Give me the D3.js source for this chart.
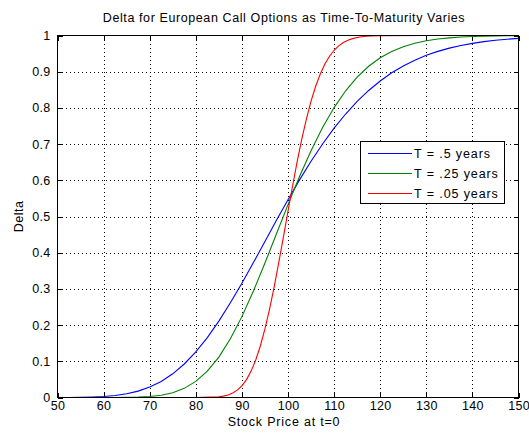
<!DOCTYPE html>
<html>
<head>
<meta charset="utf-8">
<script src="https://cdn.jsdelivr.net/npm/d3@7/dist/d3.min.js"></script>
<style>
  html, body { margin: 0; padding: 0; background: #fff; }
  svg { display: block; }
  text { font-family: "Liberation Sans", Arial, Helvetica, sans-serif; fill: #000; }
</style>
</head>
<body>
<svg id="chart" width="529" height="433"></svg>
<script>
// Stock prices (x) shared by the T = .5 and T = .25 curves
const prices = [50, 52.5, 55, 57.5, 60, 62.5, 65, 67.5, 70, 72.5, 75, 77.5, 80, 82.5, 85, 87.5,
  90, 92.5, 95, 97.5, 100, 102.5, 105, 107.5, 110, 112.5, 115, 117.5, 120, 122.5, 125, 127.5,
  130, 132.5, 135, 137.5, 140, 142.5, 145, 147.5, 150];

const deltaHalfYear = [0.0001, 0.0002, 0.0005, 0.0013, 0.0028, 0.0055, 0.0102, 0.0176, 0.0287,
  0.0443, 0.0654, 0.0926, 0.126, 0.1656, 0.211, 0.2615, 0.3158, 0.3727, 0.4311, 0.4894, 0.5464,
  0.6011, 0.6527, 0.7004, 0.744, 0.7831, 0.8178, 0.8482, 0.8744, 0.8969, 0.916, 0.9319, 0.9453,
  0.9562, 0.9652, 0.9724, 0.9783, 0.983, 0.9867, 0.9897, 0.992];

const deltaQuarterYear = [0, 0, 0, 0, 0, 0.0001, 0.0004, 0.0011, 0.0028, 0.0064, 0.0132, 0.0252,
  0.0444, 0.0726, 0.1117, 0.1622, 0.2234, 0.2941, 0.3715, 0.4522, 0.5328, 0.6103, 0.6818, 0.7456,
  0.8009, 0.8473, 0.8851, 0.9151, 0.9383, 0.956, 0.9691, 0.9786, 0.9854, 0.9902, 0.9935, 0.9957,
  0.9972, 0.9982, 0.9989, 0.9993, 0.9996];

// The short-dated curve is sampled more finely through its steep section
const pricesShort = [50, 60, 70, 80, 85, 86, 87, 88, 89, 90, 91, 92, 93, 94, 95, 96, 97, 98, 99,
  100, 101, 102, 103, 104, 105, 106, 107, 108, 109, 110, 111, 112, 113, 114, 115, 116, 117, 118,
  120, 130, 140, 150];

const deltaShort = [0, 0, 0, 0, 0.0021, 0.0039, 0.007, 0.0123, 0.0203, 0.0323, 0.0495, 0.0729,
  0.1036, 0.1423, 0.1894, 0.2444, 0.3057, 0.373, 0.4432, 0.5147, 0.585, 0.6521, 0.7142, 0.7699,
  0.8185, 0.8597, 0.8938, 0.9213, 0.9428, 0.9592, 0.9715, 0.9805, 0.9869, 0.9914, 0.9944, 0.9964,
  0.9978, 0.9986, 0.9995, 1, 1, 1];

const seriesLabels = ["T = .5 years", "T = .25 years", "T = .05 years"];
const seriesColors = ["#0000ff", "#008000", "#ff0000"];

const xTicks = [50, 60, 70, 80, 90, 100, 110, 120, 130, 140, 150];
const yTicks = [0, 0.1, 0.2, 0.3, 0.4, 0.5, 0.6, 0.7, 0.8, 0.9, 1];

const titleText = "Delta for European Call Options as Time-To-Maturity Varies";
const xLabelText = "Stock Price at t=0";
const yLabelText = "Delta";

const series = [
  { x: prices, y: deltaHalfYear },
  { x: prices, y: deltaQuarterYear },
  { x: pricesShort, y: deltaShort }
].map((s, i) => ({
  label: seriesLabels[i],
  color: seriesColors[i],
  points: s.x.map((p, j) => [p, s.y[j]])
}));

const svg = d3.select("#chart");
const plotL = 57.5, plotR = 518.5, plotT = 35.5, plotB = 397.5;

const x = d3.scaleLinear().domain([50, 150]).range([plotL, plotR]);
const y = d3.scaleLinear().domain([0, 1]).range([plotB, plotT]);

// dotted grid
const grid = svg.append("g").attr("shape-rendering", "crispEdges")
  .attr("stroke", "#000").attr("stroke-width", 1).attr("stroke-dasharray", "1,3");
grid.selectAll("line.v").data(xTicks.slice(1, -1)).join("line").attr("class", "v")
  .attr("x1", d => Math.round(x(d)) + 0.5).attr("x2", d => Math.round(x(d)) + 0.5)
  .attr("y1", plotT).attr("y2", plotB);
grid.selectAll("line.h").data(yTicks.slice(1, -1)).join("line").attr("class", "h")
  .attr("y1", d => Math.round(y(d)) + 0.5).attr("y2", d => Math.round(y(d)) + 0.5)
  .attr("x1", plotL).attr("x2", plotR);

// axes with inward ticks on all four sides
const tickLen = 5;
const fmtY = d => d === 0 || d === 1 ? String(d) : d3.format(".1f")(d);
const axBottom = svg.append("g").attr("transform", `translate(0,${plotB})`)
  .call(d3.axisBottom(x).tickValues(xTicks).tickSizeInner(-tickLen).tickSizeOuter(0).tickPadding(4));
const axTop = svg.append("g").attr("transform", `translate(0,${plotT})`)
  .call(d3.axisTop(x).tickValues(xTicks).tickSizeInner(-tickLen).tickSizeOuter(0).tickFormat(""));
const axLeft = svg.append("g").attr("transform", `translate(${plotL},0)`)
  .call(d3.axisLeft(y).tickValues(yTicks).tickSizeInner(-tickLen).tickSizeOuter(0).tickPadding(7).tickFormat(fmtY));
const axRight = svg.append("g").attr("transform", `translate(${plotR},0)`)
  .call(d3.axisRight(y).tickValues(yTicks).tickSizeInner(-tickLen).tickSizeOuter(0).tickFormat(""));

[axBottom, axTop, axLeft, axRight].forEach(g => {
  g.select(".domain").remove();
  g.selectAll("line").attr("stroke", "#000").attr("shape-rendering", "crispEdges");
  g.selectAll("text").attr("font-size", 12.5).attr("letter-spacing", 0.3)
    .attr("font-family", "Liberation Sans, Arial, sans-serif").attr("fill", "#000");
});

// curves
const line = d3.line().x(d => x(d[0])).y(d => y(d[1]));
svg.append("g").selectAll("path").data(series).join("path")
  .attr("d", d => line(d.points))
  .attr("fill", "none")
  .attr("stroke", d => d.color)
  .attr("stroke-width", 1.1);

// plot box
svg.append("rect").attr("x", plotL).attr("y", plotT)
  .attr("width", plotR - plotL).attr("height", plotB - plotT)
  .attr("fill", "none").attr("stroke", "#000").attr("shape-rendering", "crispEdges");

// legend
const lg = svg.append("g");
lg.append("rect").attr("x", 360.5).attr("y", 141.5).attr("width", 144).attr("height", 62)
  .attr("fill", "#fff").attr("stroke", "#000").attr("shape-rendering", "crispEdges");
const rows = lg.selectAll("g.row").data(series).join("g").attr("class", "row")
  .attr("transform", (d, i) => `translate(0,${153 + i * 20})`);
rows.append("line").attr("x1", 368).attr("x2", 412).attr("y1", 0.5).attr("y2", 0.5)
  .attr("stroke", d => d.color).attr("stroke-width", 1).attr("shape-rendering", "crispEdges");
rows.append("text").attr("x", 414).attr("y", 0).attr("dy", "0.38em")
  .attr("font-size", 12.5).attr("letter-spacing", 0.9).text(d => d.label);

// titles
svg.append("text").attr("x", (plotL + plotR) / 2 - 4).attr("y", 22)
  .attr("text-anchor", "middle").attr("font-size", 12.5).attr("letter-spacing", 0.6).text(titleText);
svg.append("text").attr("x", (plotL + plotR) / 2 - 4).attr("y", 426)
  .attr("text-anchor", "middle").attr("font-size", 12.5).attr("letter-spacing", 0.8).text(xLabelText);
svg.append("text").attr("transform", `translate(23,${(plotT + plotB) / 2}) rotate(-90)`)
  .attr("text-anchor", "middle").attr("font-size", 12.5).attr("letter-spacing", 0.5).text(yLabelText);
</script>
</body>
</html>
